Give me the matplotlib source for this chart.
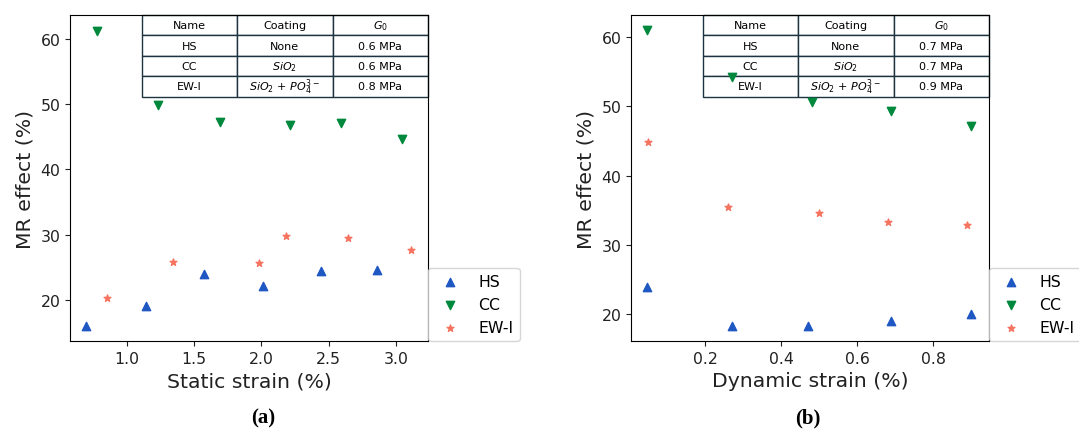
import numpy as np
import matplotlib
matplotlib.use("Agg")
import matplotlib.pyplot as plt

# (a) static strain
static_hs_x = [0.70, 1.14, 1.57, 2.01, 2.44, 2.86]
static_hs_y = [16.0, 19.0, 24.0, 22.1, 24.4, 24.6]
static_cc_x = [0.78, 1.23, 1.69, 2.21, 2.59, 3.04]
static_cc_y = [61.2, 49.8, 47.2, 46.8, 47.0, 44.6]
static_ew_x = [0.85, 1.34, 1.98, 2.18, 2.64, 3.11]
static_ew_y = [20.3, 25.8, 25.6, 29.7, 29.5, 27.7]
static_g0 = ["0.6 MPa", "0.6 MPa", "0.8 MPa"]

# (b) dynamic strain
dyn_hs_x = [0.047, 0.27, 0.47, 0.69, 0.90]
dyn_hs_y = [23.9, 18.2, 18.2, 19.0, 20.0]
dyn_cc_x = [0.047, 0.27, 0.48, 0.69, 0.90]
dyn_cc_y = [61.0, 54.2, 50.7, 49.3, 47.1]
dyn_ew_x = [0.05, 0.26, 0.50, 0.68, 0.89]
dyn_ew_y = [44.9, 35.5, 34.6, 33.3, 32.9]
dyn_g0 = ["0.7 MPa", "0.7 MPa", "0.9 MPa"]

names = ["HS", "CC", "EW-I"]
coatings = ["None", "$SiO_2$", "$SiO_2$ + $PO_4^{3-}$"]
col_labels = ["Name", "Coating", "$G_0$"]

c_hs = "#1f57c3"
c_cc = "#00893d"
c_ew = "#f5735f"

fig = plt.figure(figsize=(10.79, 4.35), dpi=100)
ax1 = fig.add_axes([0.0649, 0.2138, 0.3318, 0.7494])
ax2 = fig.add_axes([0.5848, 0.2138, 0.3318, 0.7494])


def draw(ax, hs, cc, ew, g0, xlabel, xlim, ylim):
    ax.scatter(hs[0], hs[1], marker="^", color=c_hs, label="HS")
    ax.scatter(cc[0], cc[1], marker="v", color=c_cc, label="CC")
    ax.scatter(ew[0], ew[1], marker="*", s=26, color=c_ew, label="EW-I")
    ax.set_xlim(*xlim)
    ax.set_ylim(*ylim)
    ax.set_yticks([20, 30, 40, 50, 60])
    ax.tick_params(labelsize=11.3, colors="#222222")
    ax.set_xlabel(xlabel, fontsize=14.7, color="#222222")
    ax.set_ylabel("MR effect (%)", fontsize=14.7, color="#222222")
    rows = [[n, c, g] for n, c, g in zip(names, coatings, g0)]
    tab = ax.table(cellText=rows, colLabels=col_labels, cellLoc="center",
                   bbox=[0.2, 0.75, 0.8, 0.25])
    tab.auto_set_font_size(False)
    tab.set_fontsize(8)
    for cell in tab.get_celld().values():
        cell.set_edgecolor("#1c3340")
        cell.set_linewidth(1.0)
    ax.legend(loc="lower left", bbox_to_anchor=(1, 0), borderaxespad=0,
              fontsize=11.3)


draw(ax1, (static_hs_x, static_hs_y), (static_cc_x, static_cc_y),
     (static_ew_x, static_ew_y), static_g0, "Static strain (%)",
     (0.578, 3.237), (13.7, 63.6))
draw(ax2, (dyn_hs_x, dyn_hs_y), (dyn_cc_x, dyn_cc_y),
     (dyn_ew_x, dyn_ew_y), dyn_g0, "Dynamic strain (%)",
     (0.005, 0.947), (16.1, 63.2))
ax1.set_xticks([1.0, 1.5, 2.0, 2.5, 3.0])
ax2.set_xticks([0.2, 0.4, 0.6, 0.8])

fig.text(0.244, 0.039, "(a)", ha="center", va="center", fontsize=15,
         family="Liberation Serif", fontweight="bold")
fig.text(0.749, 0.039, "(b)", ha="center", va="center", fontsize=15,
         family="Liberation Serif", fontweight="bold")

fig.savefig("out.png", dpi=100)
